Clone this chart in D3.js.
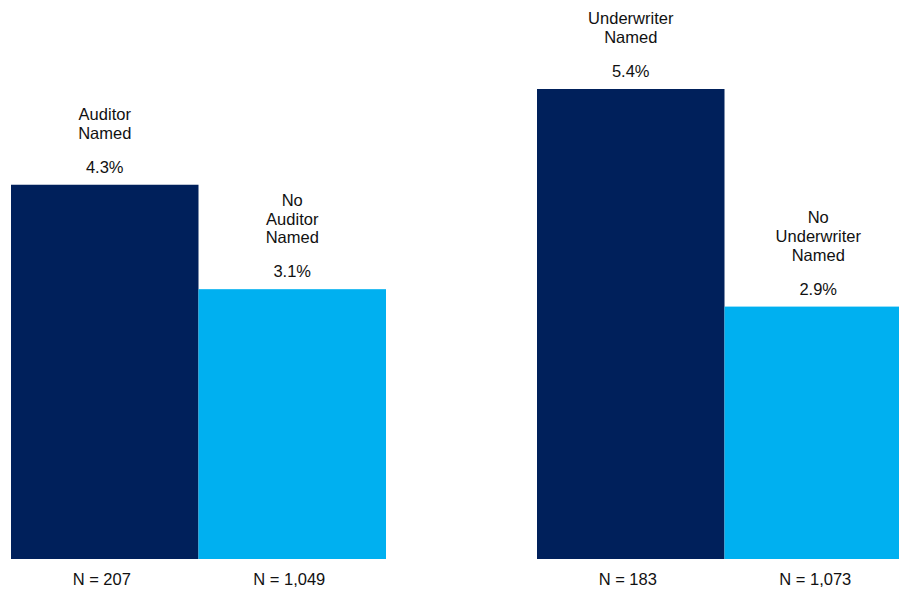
<!DOCTYPE html>
<html><head><meta charset="utf-8">
<script src="https://cdn.jsdelivr.net/npm/d3@7"></script>
<style>html,body{margin:0;padding:0;background:#fff;overflow:hidden}</style>
</head><body>
<svg id="c" width="899" height="589"></svg>
<script>
const groups = ["Auditor", "Underwriter"];
const subgroups = ["Named", "Not Named"];
const categoryLabels = [
  ["Auditor", "Named"], ["No", "Auditor", "Named"],
  ["Underwriter", "Named"], ["No", "Underwriter", "Named"]
];
const values = [4.3, 3.1, 5.4, 2.9];
const valueLabels = ["4.3%", "3.1%", "5.4%", "2.9%"];
const nLabels = ["N = 207", "N = 1,049", "N = 183", "N = 1,073"];
const colors = ["#00205B", "#00B0F0"];

const svg = d3.select("#c");
const font = "'Liberation Sans', Arial, sans-serif";
const baseY = 559;

const x0 = d3.scaleBand().domain(groups).range([11, 912]).paddingInner(151/526).paddingOuter(0);
const x1 = d3.scaleBand().domain(subgroups).range([0, x0.bandwidth()]);
const y = d3.scaleLinear().domain([0, 5.4]).range([baseY, baseY - 470]);

const data = values.map((v, i) => ({
  g: groups[Math.floor(i / 2)], s: subgroups[i % 2], v,
  cat: categoryLabels[i], val: valueLabels[i], n: nLabels[i], color: colors[i % 2]
}));

const cx = d => x0(d.g) + x1(d.s) + x1.bandwidth() / 2;

svg.selectAll("rect.bar").data(data).enter().append("rect")
  .attr("class", "bar")
  .attr("x", d => x0(d.g) + x1(d.s))
  .attr("width", x1.bandwidth())
  .attr("y", d => y(d.v))
  .attr("height", d => baseY - y(d.v))
  .attr("fill", d => d.color);

const lh = 18.6;
data.forEach(d => {
  const top = y(d.v);
  const valY = top - 12;
  svg.append("text").attr("x", cx(d)).attr("y", valY)
    .attr("text-anchor", "middle").attr("font-family", font).attr("font-size", 16.5)
    .attr("fill", "#111").text(d.val);
  const lastY = valY - 34;
  d.cat.forEach((line, j) => {
    svg.append("text").attr("x", cx(d)).attr("y", lastY - (d.cat.length - 1 - j) * lh)
      .attr("text-anchor", "middle").attr("font-family", font).attr("font-size", 16.5)
      .attr("fill", "#111").text(line);
  });
  svg.append("text").attr("x", cx(d) - 3).attr("y", 585)
    .attr("text-anchor", "middle").attr("font-family", font).attr("font-size", 16.5)
    .attr("fill", "#111").text(d.n);
});
</script>
</body></html>
